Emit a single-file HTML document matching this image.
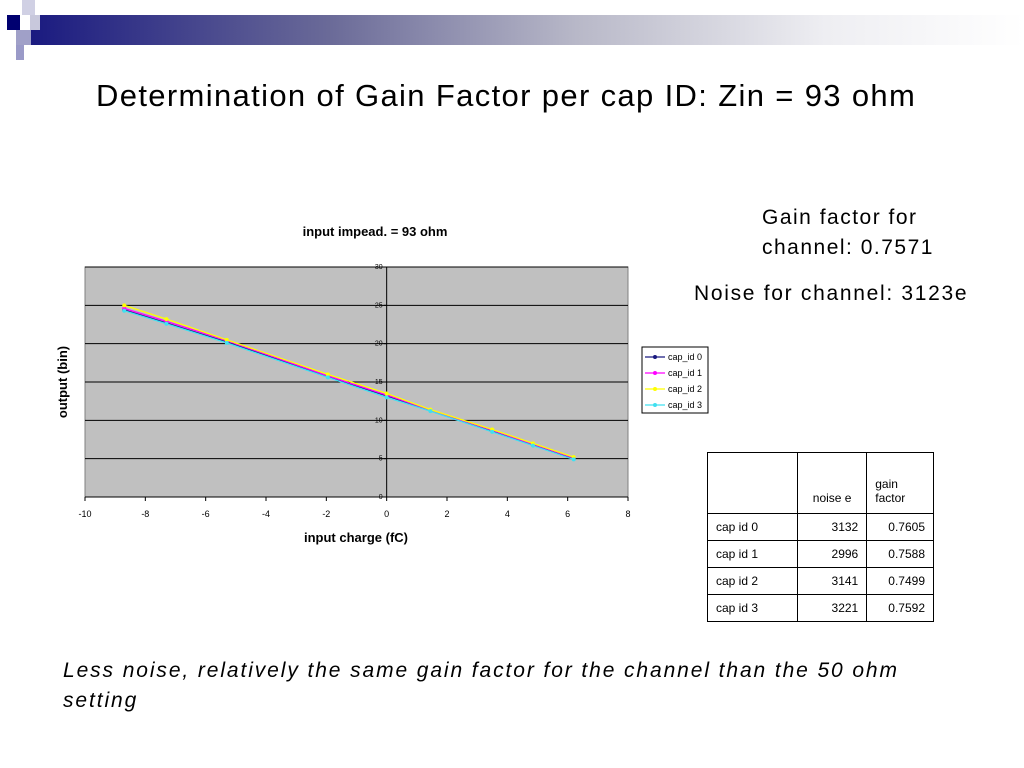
<!DOCTYPE html>
<html><head><meta charset="utf-8"><style>
body{margin:0;width:1024px;height:768px;background:#fff;position:relative;overflow:hidden;font-family:"Liberation Sans",sans-serif}
.abs{position:absolute;white-space:nowrap}
table{border-collapse:collapse;font-size:12px}
td{border:1px solid #000;padding:0 8px;height:26px}
</style></head><body>
<div class="abs" style="left:30px;top:15px;width:994px;height:30px;background:linear-gradient(90deg,#1a1a80 0%,#6a6a98 30%,#b8b8c8 55%,#eeeef2 80%,#fff 100%)"></div>
<div class="abs" style="left:7px;top:15px;width:13px;height:15px;background:#000070"></div>
<div class="abs" style="left:22px;top:0px;width:13px;height:15px;background:#d0d0e4"></div>
<div class="abs" style="left:30px;top:15px;width:10px;height:15px;background:#c8c8dc"></div>
<div class="abs" style="left:16px;top:30px;width:15px;height:15px;background:#a0a0c8"></div>
<div class="abs" style="left:16px;top:45px;width:8px;height:15px;background:#9a9ac8"></div>
<div class="abs" style="left:96px;top:78px;font-size:31px;letter-spacing:1.35px;color:#000">Determination of Gain Factor per cap ID: Zin = 93 ohm</div>
<div class="abs" style="left:762px;top:203px;font-size:21px;letter-spacing:1.5px;line-height:30px">Gain factor for<br>channel: 0.7571</div>
<div class="abs" style="left:694px;top:282px;font-size:21px;letter-spacing:1.7px">Noise for channel: 3123e</div>
<svg class="abs" style="left:0;top:0" width="1024" height="768" id="chart"></svg>
<table class="abs" style="left:707px;top:452px;width:227px">
<tr style="height:61px"><td style="width:73px"></td><td style="vertical-align:bottom;text-align:center;padding-bottom:8px">noise e</td><td style="vertical-align:bottom;padding-bottom:8px">gain<br>factor</td></tr>
<tr><td>cap id 0</td><td style="text-align:right">3132</td><td style="text-align:right">0.7605</td></tr>
<tr><td>cap id 1</td><td style="text-align:right">2996</td><td style="text-align:right">0.7588</td></tr>
<tr><td>cap id 2</td><td style="text-align:right">3141</td><td style="text-align:right">0.7499</td></tr>
<tr><td>cap id 3</td><td style="text-align:right">3221</td><td style="text-align:right">0.7592</td></tr>
</table>
<div class="abs" style="left:63px;top:656px;font-size:21px;letter-spacing:1.9px;font-style:italic;line-height:30px">Less noise, relatively the same gain factor for the channel than the 50 ohm<br>setting</div>
<script>
const xVals=[-8.7,-7.3,-5.3,-1.95,0,1.45,3.5,4.85,6.2];
const cap0=[24.4,22.7,20.2,15.7,13.2,11.3,8.6,6.8,5.0];
const cap1=[24.6,22.9,20.4,15.8,13.3,11.35,8.7,6.9,5.1];
const cap2=[25.0,23.2,20.5,16.0,13.5,11.4,8.8,7.0,5.2];
const cap3=[24.3,22.6,20.1,15.6,13.0,11.2,8.5,6.7,4.9];
const xTicks=[-10,-8,-6,-4,-2,0,2,4,6,8];
const yTicks=[0,5,10,15,20,25,30];
const seriesNames=['cap_id 0','cap_id 1','cap_id 2','cap_id 3'];
const series=[cap0,cap1,cap2,cap3];
const colors=['#1a1a80','#ff00ff','#ffff00','#40e0f0'];
const L=85,R=628,T=267,B=497;
const sx=v=>L+(v+10)/18*(R-L);
const sy=v=>B-v/30*(B-T);
const svg=document.getElementById('chart');
const NS='http://www.w3.org/2000/svg';
function mk(tag,attrs,name){const e=document.createElementNS(NS,tag);for(const k in attrs)e.setAttribute(k,attrs[k]);


svg.appendChild(e);return e;}
mk('rect',{x:L,y:T,width:R-L,height:B-T,fill:'#c0c0c0',stroke:'#808080'},'plot-area');
yTicks.forEach(t=>{if(t>0)mk('line',{x1:L,x2:R,y1:sy(t),y2:sy(t),stroke:'#000','stroke-width':1},'gridline');
const tx=mk('text',{x:sx(0)-4,y:sy(t)+2,'font-size':7,'text-anchor':'end',fill:'#000'},'y-tick-label');tx.textContent=t;
mk('line',{x1:sx(0)-3,x2:sx(0),y1:sy(t),y2:sy(t),stroke:'#000'},'y-tick');});
mk('line',{x1:sx(0),x2:sx(0),y1:T,y2:B,stroke:'#000'},'y-axis');
mk('line',{x1:L,x2:R,y1:B,y2:B,stroke:'#000'},'x-axis');
xTicks.forEach(t=>{mk('line',{x1:sx(t),x2:sx(t),y1:B,y2:B+4,stroke:'#000'},'x-tick');
const tx=mk('text',{x:sx(t),y:B+20,'font-size':9,'text-anchor':'middle',fill:'#000'},'x-tick-label');tx.textContent=t;});
series.forEach((s,i)=>{
mk('polyline',{points:s.map((v,j)=>sx(xVals[j])+','+sy(v)).join(' '),fill:'none',stroke:colors[i],'stroke-width':1.3},'series-line-'+i);
s.forEach((v,j)=>mk('circle',{cx:sx(xVals[j]),cy:sy(v),r:2,fill:colors[i]},'point'));});
let t=mk('text',{x:375,y:236,'font-size':13,'font-weight':'bold','text-anchor':'middle'},'chart-title');t.textContent='input impead. = 93 ohm';
t=mk('text',{x:356,y:542,'font-size':13,'font-weight':'bold','text-anchor':'middle'},'x-axis-title');t.textContent='input charge (fC)';
t=mk('text',{x:0,y:0,'font-size':13,'font-weight':'bold','text-anchor':'middle',transform:'translate(67,382) rotate(-90)'},'y-axis-title');t.textContent='output (bin)';
mk('rect',{x:642,y:347,width:66,height:66,fill:'#fff',stroke:'#000'},'legend');
seriesNames.forEach((n,i)=>{const y=357+i*16;
mk('line',{x1:645,x2:665,y1:y,y2:y,stroke:colors[i],'stroke-width':1.3},'legend-line');
mk('circle',{cx:655,cy:y,r:2,fill:colors[i]},'legend-marker');
const tx=mk('text',{x:668,y:y+3,'font-size':9},'legend-entry');tx.textContent=n;});
</script>
</body></html>
